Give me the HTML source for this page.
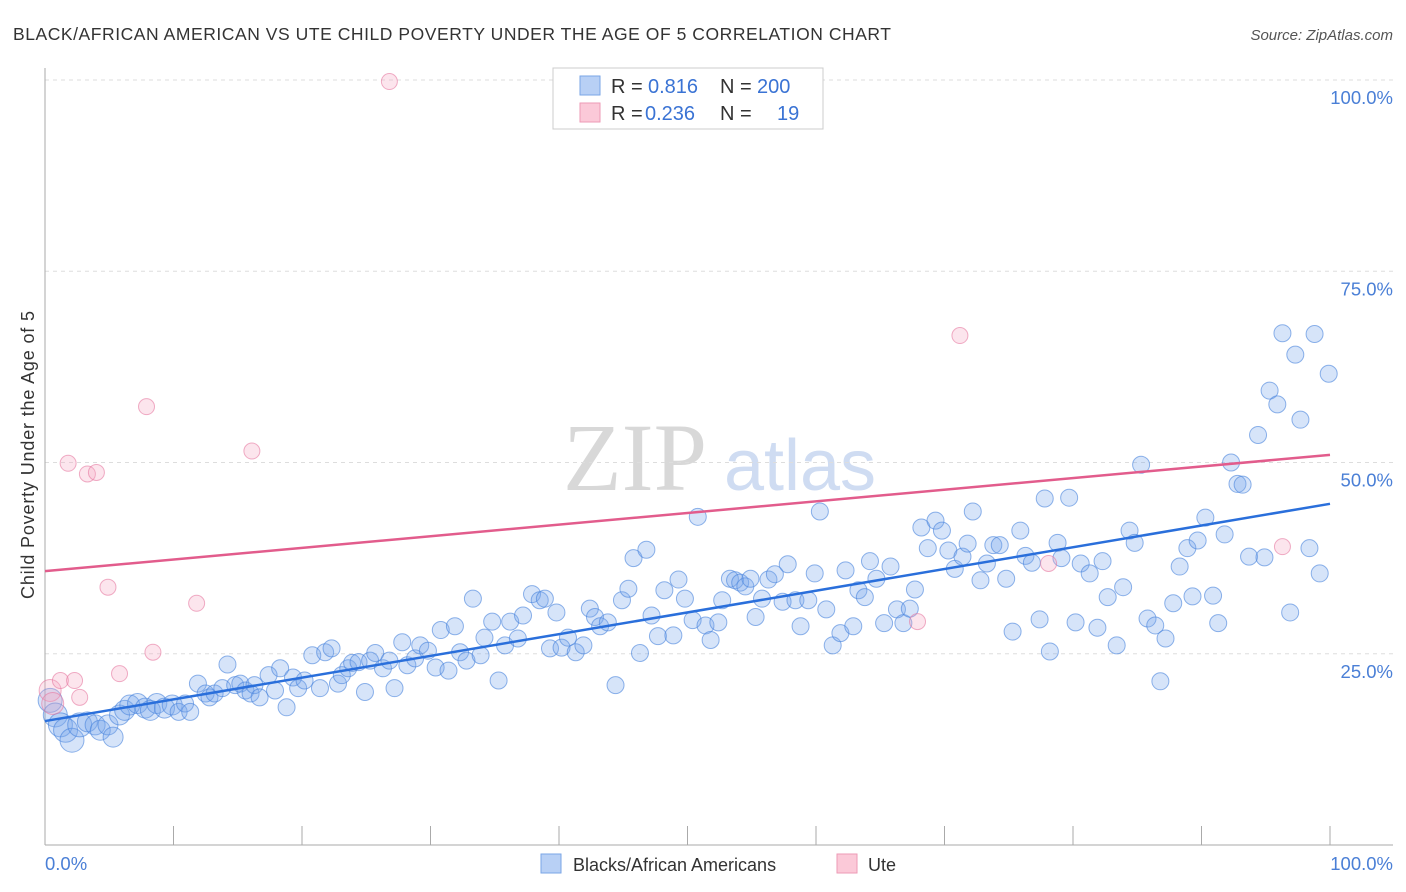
<!DOCTYPE html>
<html><head><meta charset="utf-8">
<style>
body{margin:0;background:#fff;font-family:"Liberation Sans",sans-serif;}
svg{display:block}
</style></head>
<body>
<svg id="chart" width="1406" height="892">
<text x="13" y="40" font-size="17.5" fill="#333" textLength="878" lengthAdjust="spacing">BLACK/AFRICAN AMERICAN VS UTE CHILD POVERTY UNDER THE AGE OF 5 CORRELATION CHART</text>
<text x="1393" y="40" font-size="15" fill="#555" font-style="italic" text-anchor="end">Source: ZipAtlas.com</text>
<g>
<text x="635" y="490" font-size="96" fill="#d8d8d8" font-family="Liberation Serif,serif" text-anchor="middle">ZIP</text>
<text x="800" y="490" font-size="72" fill="#cfdcf2" text-anchor="middle">atlas</text>
</g>
<g id="grid"></g>
<g id="axes"></g>
<g id="pts"></g>
<g id="trends"></g>
<text transform="translate(34,455) rotate(-90)" font-size="18" fill="#333" text-anchor="middle" textLength="288" lengthAdjust="spacing">Child Poverty Under the Age of 5</text>
<g>
<rect x="553" y="68" width="270" height="61" fill="#fff" stroke="#ccc"/>
<rect x="580" y="76" width="20" height="19" fill="#b8d0f5" stroke="#7aa6e6"/>
<rect x="580" y="103" width="20" height="19" fill="#fbc9d8" stroke="#ee9ab6"/>
<text x="611" y="93" font-size="20" fill="#333">R =</text>
<text x="648" y="93" font-size="20" fill="#3a73d4">0.816</text>
<text x="720" y="93" font-size="20" fill="#333">N =</text>
<text x="757" y="93" font-size="20" fill="#3a73d4">200</text>
<text x="611" y="120" font-size="20" fill="#333">R =</text>
<text x="645" y="120" font-size="20" fill="#3a73d4">0.236</text>
<text x="720" y="120" font-size="20" fill="#333">N =</text>
<text x="777" y="120" font-size="20" fill="#3a73d4">19</text>
</g>
<g>
<rect x="541" y="854" width="20" height="19" fill="#b8d0f5" stroke="#7aa6e6"/>
<text x="573" y="871" font-size="18" fill="#333">Blacks/African Americans</text>
<rect x="837" y="854" width="20" height="19" fill="#fbc9d8" stroke="#ee9ab6"/>
<text x="868" y="871" font-size="18" fill="#333">Ute</text>
</g>
</svg>
<script>
const blueX=[0.4,0.8,1.2,1.6,2.1,2.7,3.3,3.9,4.3,4.9,5.3,5.8,6.2,6.6,7.2,7.8,8.2,8.7,9.3,9.9,10.4,10.9,11.3,11.9,12.5,12.8,13.2,13.8,14.2,14.8,15.2,15.6,16.0,16.3,16.7,17.4,17.9,18.3,18.8,19.3,19.7,20.2,20.8,21.4,21.8,22.3,22.8,23.1,23.6,23.9,24.4,24.9,25.3,25.7,26.3,26.8,27.2,27.8,28.2,28.8,29.2,29.8,30.4,30.8,31.4,31.9,32.3,32.8,33.3,33.9,34.2,34.8,35.3,35.8,36.2,36.8,37.2,37.9,38.5,38.9,39.3,39.8,40.2,40.7,41.3,41.9,42.4,42.8,43.2,43.8,44.4,44.9,45.4,45.8,46.3,46.8,47.2,47.7,48.2,48.9,49.3,49.8,50.4,50.8,51.4,51.8,52.4,52.7,53.3,53.7,54.1,54.5,54.9,55.3,55.8,56.3,56.8,57.4,57.8,58.4,58.8,59.4,59.9,60.3,60.8,61.3,61.9,62.3,62.9,63.3,63.8,64.2,64.7,65.3,65.8,66.3,66.8,67.3,67.7,68.2,68.7,69.3,69.8,70.3,70.8,71.4,71.8,72.2,72.8,73.3,73.8,74.3,74.8,75.3,75.9,76.3,76.8,77.4,77.8,78.2,78.8,79.1,79.7,80.2,80.6,81.3,81.9,82.3,82.7,83.4,83.9,84.4,84.8,85.3,85.8,86.4,86.8,87.2,87.8,88.3,88.9,89.3,89.7,90.3,90.9,91.3,91.8,92.3,92.8,93.2,93.7,94.4,94.9,95.3,95.9,96.3,96.9,97.3,97.7,98.4,98.8,99.2,99.9];
const blueY=[18.9,17.0,15.7,15.0,13.7,15.7,16.1,15.7,15.0,15.7,14.1,17.0,17.6,18.3,18.5,17.9,17.6,18.5,17.9,18.3,17.4,18.5,17.4,21.1,19.8,19.3,19.8,20.5,23.6,20.9,21.1,20.2,19.8,20.9,19.3,22.2,20.2,23.1,18.0,21.9,20.5,21.5,24.8,20.5,25.2,25.7,21.1,22.2,23.1,23.8,23.9,20.0,24.1,25.1,23.1,24.1,20.5,26.5,23.5,24.4,26.1,25.4,23.2,28.1,22.8,28.6,25.2,24.1,32.2,24.8,27.1,29.2,21.5,26.1,29.2,27.0,30.0,32.8,32.0,32.2,25.7,30.4,25.8,27.1,25.2,26.1,30.9,29.8,28.6,29.1,20.9,32.0,33.5,37.5,25.1,38.6,30.0,27.3,33.3,27.4,34.7,32.2,29.4,42.9,28.7,26.8,29.1,32.0,34.8,34.6,34.3,33.8,34.8,29.8,32.2,34.7,35.4,31.8,36.7,32.0,28.6,32.0,35.5,43.6,30.8,26.1,27.7,35.9,28.6,33.3,32.4,37.1,34.8,29.0,36.4,30.8,29.0,30.9,33.4,41.5,38.8,42.4,41.1,38.5,36.1,37.7,39.4,43.6,34.6,36.8,39.2,39.2,34.8,27.9,41.1,37.8,36.9,29.5,45.3,25.3,39.5,37.5,45.4,29.1,36.8,35.5,28.4,37.1,32.4,26.1,33.7,41.1,39.5,49.7,29.6,28.7,21.4,27.0,31.6,36.4,38.8,32.5,39.8,42.8,32.6,29.0,40.6,50.0,47.2,47.1,37.7,53.6,37.6,59.4,57.6,66.9,30.4,64.1,55.6,38.8,66.8,35.5,61.6];
const pinkX=[0.4,0.6,1.2,1.8,2.3,2.7,3.3,4.0,4.9,5.8,7.9,8.4,11.8,16.1,26.8,67.9,71.2,78.1,96.3];
const pinkY=[20.2,18.5,21.5,49.9,21.5,19.3,48.5,48.7,33.7,22.4,57.3,25.2,31.6,51.5,99.8,29.2,66.6,36.8,39.0];
const blueTrend=[16.2,44.6];
const pinkTrend=[35.8,51.0];
const yTicks=[25,50,75,100];
const yTickLabels=["25.0%","50.0%","75.0%","100.0%"];
const xTicks=[0,10,20,30,40,50,60,70,80,90,100];

const NS="http://www.w3.org/2000/svg";
const X0=45,X1=1330,Y0=845,Y100=80;
const sx=v=>X0+(X1-X0)*v/100;
const sy=v=>Y0-(Y0-Y100)*v/100;
function mk(tag,attrs,parent){const e=document.createElementNS(NS,tag);for(const k in attrs)e.setAttribute(k,attrs[k]);document.getElementById(parent).appendChild(e);return e;}

yTicks.forEach((t,i)=>{
  const g=mk('line',{x1:45,x2:1393,y1:sy(t),y2:sy(t),stroke:'#ddd','stroke-dasharray':'4,4'},'grid');
  
  
  const l=mk('text',{x:1393,y:sy(t)+24,'font-size':18.5,fill:'#4a7fd6','text-anchor':'end'},'grid');
  l.textContent=yTickLabels[i];
  
  
});
mk('line',{x1:45,x2:45,y1:68,y2:845,stroke:'#aaa'},'axes');
mk('line',{x1:45,x2:1393,y1:845,y2:845,stroke:'#aaa'},'axes');
xTicks.forEach(t=>{
  const tk=mk('line',{x1:sx(t),x2:sx(t),y1:826,y2:845,stroke:'#aaa'},'axes');
  
  
});
const xl0=mk('text',{x:45,y:870,'font-size':18.5,fill:'#4a7fd6'},'axes');xl0.textContent='0.0%';


const xl1=mk('text',{x:1393,y:870,'font-size':18.5,fill:'#4a7fd6','text-anchor':'end'},'axes');xl1.textContent='100.0%';



blueX.forEach((x,i)=>{
  const r=x<3?12:(x<10?10:8.5);
  const c=mk('circle',{cx:sx(x),cy:sy(blueY[i]),r:r,fill:'rgba(120,165,235,0.3)',stroke:'rgba(70,130,220,0.6)','stroke-width':1},'pts');
  
  
});
pinkX.forEach((x,i)=>{
  const r=x<1?11:8;
  const c=mk('circle',{cx:sx(x),cy:sy(pinkY[i]),r:r,fill:'rgba(245,170,195,0.3)',stroke:'rgba(230,120,160,0.6)','stroke-width':1},'pts');
  
  
});
const bt=mk('line',{x1:sx(0),y1:sy(blueTrend[0]),x2:sx(100),y2:sy(blueTrend[1]),stroke:'#2a6fdb','stroke-width':2.5},'trends');


const pt=mk('line',{x1:sx(0),y1:sy(pinkTrend[0]),x2:sx(100),y2:sy(pinkTrend[1]),stroke:'#e25c8c','stroke-width':2.5},'trends');


</script>
</body></html>
